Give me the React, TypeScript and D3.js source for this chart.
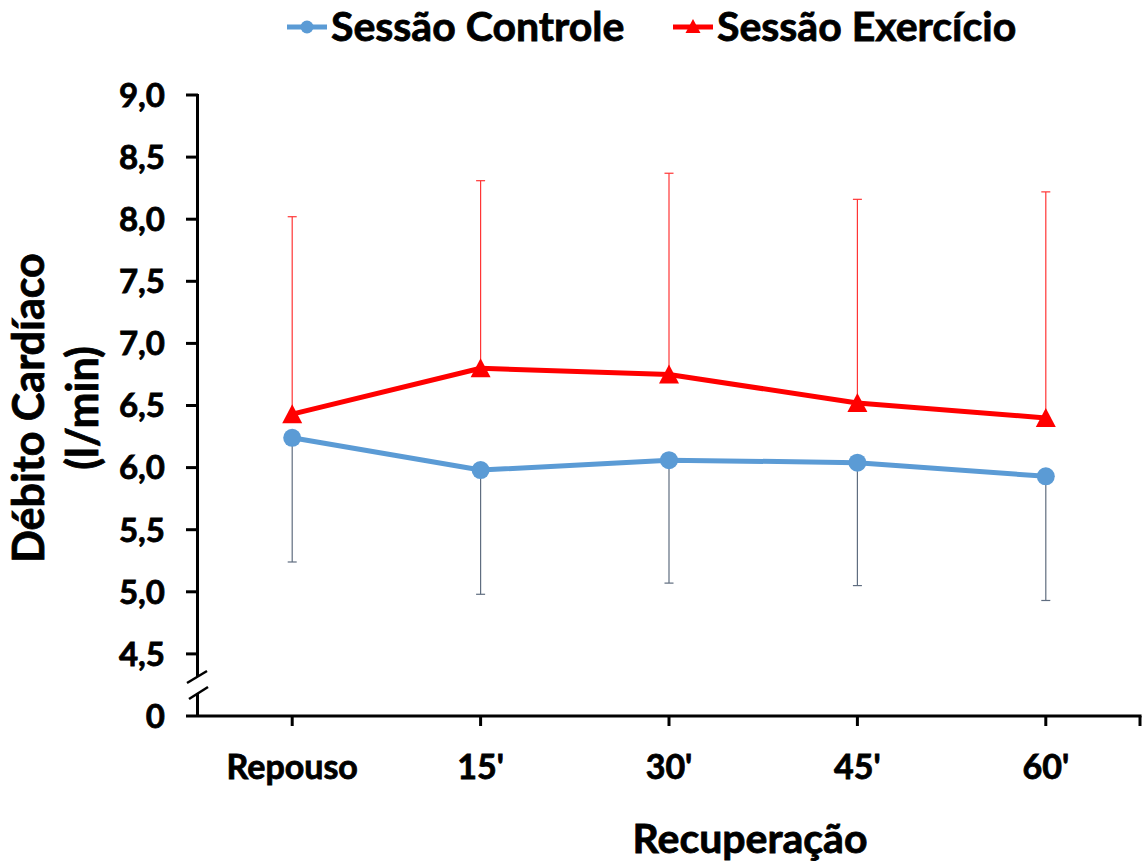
import React from "react";
import * as d3 from "d3";

// Recovery time points
const categories: string[] = ["Repouso", "15'", "30'", "45'", "60'"];

// Cardiac output means (l/min) and standard deviations
const controleMean: number[] = [6.24, 5.98, 6.06, 6.04, 5.93];
const controleSD: number[] = [1.0, 1.0, 0.99, 0.99, 1.0];
const exercicioMean: number[] = [6.43, 6.8, 6.75, 6.52, 6.4];
const exercicioSD: number[] = [1.59, 1.51, 1.62, 1.64, 1.82];

// Y ticks; the lowest position (4.0) is shown as "0" after the axis break
const yTicks: number[] = [4.0, 4.5, 5.0, 5.5, 6.0, 6.5, 7.0, 7.5, 8.0, 8.5, 9.0];
const yTickLabels: string[] = ["0", "4,5", "5,0", "5,5", "6,0", "6,5", "7,0", "7,5", "8,0", "8,5", "9,0"];

const seriesNames: string[] = ["Sessão Controle", "Sessão Exercício"];

const W = 1143;
const H = 866;
const FONT = "Lato, 'Open Sans', sans-serif";
const BLUE = "#5B9BD5";
const RED = "#FF0000";

// slight outline to give the text a heavier weight
const heavy = { stroke: "#000", strokeWidth: 0.8, paintOrder: "stroke" as const };

export default function App() {
  const x = d3.scaleBand<string>().domain(categories).range([198, 1140]);
  const cx = (c: string) => (x(c) as number) + x.bandwidth() / 2;
  const y = d3.scaleLinear().domain([4, 9]).range([716, 95]);

  const line = d3
    .line<[number, number]>()
    .x((d) => d[0])
    .y((d) => d[1]);

  const ctrlPts: [number, number][] = categories.map((c, i) => [cx(c), y(controleMean[i])]);
  const exPts: [number, number][] = categories.map((c, i) => [cx(c), y(exercicioMean[i])]);

  const tri = (px: number, py: number, hw: number, up: number, down: number) =>
    `M${px},${py - up}L${px + hw},${py + down}L${px - hw},${py + down}Z`;

  const x0 = x.range()[0];
  const xEnd = x.range()[1];
  const yBase = y(4);
  const breakUpper = 677;
  const breakLower = 693;

  return (
    <svg
      width={W}
      height={H}
      style={{ position: "absolute", left: 0, top: 0, background: "#fff" }}
      fontFamily={FONT}
      fontWeight={700}
    >
      {/* legend */}
      <g>
        <line x1={287} x2={327} y1={27} y2={27} stroke={BLUE} strokeWidth={5} />
        <circle cx={307} cy={27} r={6.5} fill={BLUE} />
        <text x={331} y={41} fontSize={41} fill="#000" style={heavy}>
          {seriesNames[0]}
        </text>
        <line x1={673} x2={713} y1={27} y2={27} stroke={RED} strokeWidth={5} />
        <path d={tri(693, 27, 7.5, 8, 6)} fill={RED} />
        <text x={717} y={41} fontSize={41} fill="#000" style={heavy}>
          {seriesNames[1]}
        </text>
      </g>

      {/* y axis with break */}
      <g stroke="#000" strokeWidth={3} fill="none">
        <line x1={x0 - 0.5} x2={x0 - 0.5} y1={y(9) - 1} y2={breakUpper} />
        <line x1={x0 - 0.5} x2={x0 - 0.5} y1={breakLower} y2={yBase} />
        <line x1={187} x2={207} y1={breakUpper + 6} y2={breakUpper - 6} strokeWidth={2.5} />
        <line x1={189} x2={208} y1={breakLower + 6} y2={breakLower - 6} strokeWidth={2.5} />
        {yTicks.slice(1).map((t) => (
          <line key={t} x1={186} x2={x0} y1={y(t)} y2={y(t)} />
        ))}
      </g>
      <g fontSize={33} fill="#000" textAnchor="end" style={heavy}>
        {yTicks.map((t, i) => (
          <text key={t} x={165} y={y(t)} dy="0.36em">
            {yTickLabels[i]}
          </text>
        ))}
      </g>

      {/* x axis */}
      <g stroke="#000" strokeWidth={3}>
        <line x1={186} x2={xEnd + 1.5} y1={yBase} y2={yBase} />
        {categories.map((c) => (
          <line key={c} x1={cx(c)} x2={cx(c)} y1={yBase} y2={yBase + 10} />
        ))}
        <line x1={xEnd} x2={xEnd} y1={yBase} y2={yBase + 10} />
      </g>
      <g fontSize={34} fill="#000" textAnchor="middle" style={heavy}>
        {categories.map((c) => (
          <text key={c} x={cx(c)} y={779}>
            {c}
          </text>
        ))}
      </g>

      {/* axis titles */}
      <text x={750} y={853} fontSize={41} textAnchor="middle" fill="#000" style={heavy}>
        Recuperação
      </text>
      <g transform="translate(0,408) rotate(-90)" fontSize={43} textAnchor="middle" fill="#000" style={heavy}>
        <text x={0} y={44}>Débito Cardíaco</text>
        <text x={0} y={98}>(l/min)</text>
      </g>

      {/* error bars */}
      <g stroke="#44546A" strokeWidth={1.2} opacity={0.85}>
        {categories.map((c, i) => {
          const px = cx(c);
          const y1 = y(controleMean[i]);
          const y2 = y(controleMean[i] - controleSD[i]);
          return (
            <g key={c}>
              <line x1={px} x2={px} y1={y1} y2={y2} />
              <line x1={px - 4.5} x2={px + 4.5} y1={y2} y2={y2} />
            </g>
          );
        })}
      </g>
      <g stroke="#FF2020" strokeWidth={1.2} opacity={0.9}>
        {categories.map((c, i) => {
          const px = cx(c);
          const y1 = y(exercicioMean[i]);
          const y2 = y(exercicioMean[i] + exercicioSD[i]);
          return (
            <g key={c}>
              <line x1={px} x2={px} y1={y1} y2={y2} />
              <line x1={px - 4.5} x2={px + 4.5} y1={y2} y2={y2} />
            </g>
          );
        })}
      </g>

      {/* series lines and markers */}
      <path d={line(ctrlPts) || ""} fill="none" stroke={BLUE} strokeWidth={5} strokeLinejoin="round" />
      {ctrlPts.map((p, i) => (
        <circle key={i} cx={p[0]} cy={p[1]} r={9} fill={BLUE} />
      ))}
      <path d={line(exPts) || ""} fill="none" stroke={RED} strokeWidth={5} strokeLinejoin="round" />
      {exPts.map((p, i) => (
        <path key={i} d={tri(p[0], p[1], 10, 10, 9)} fill={RED} />
      ))}
    </svg>
  );
}
